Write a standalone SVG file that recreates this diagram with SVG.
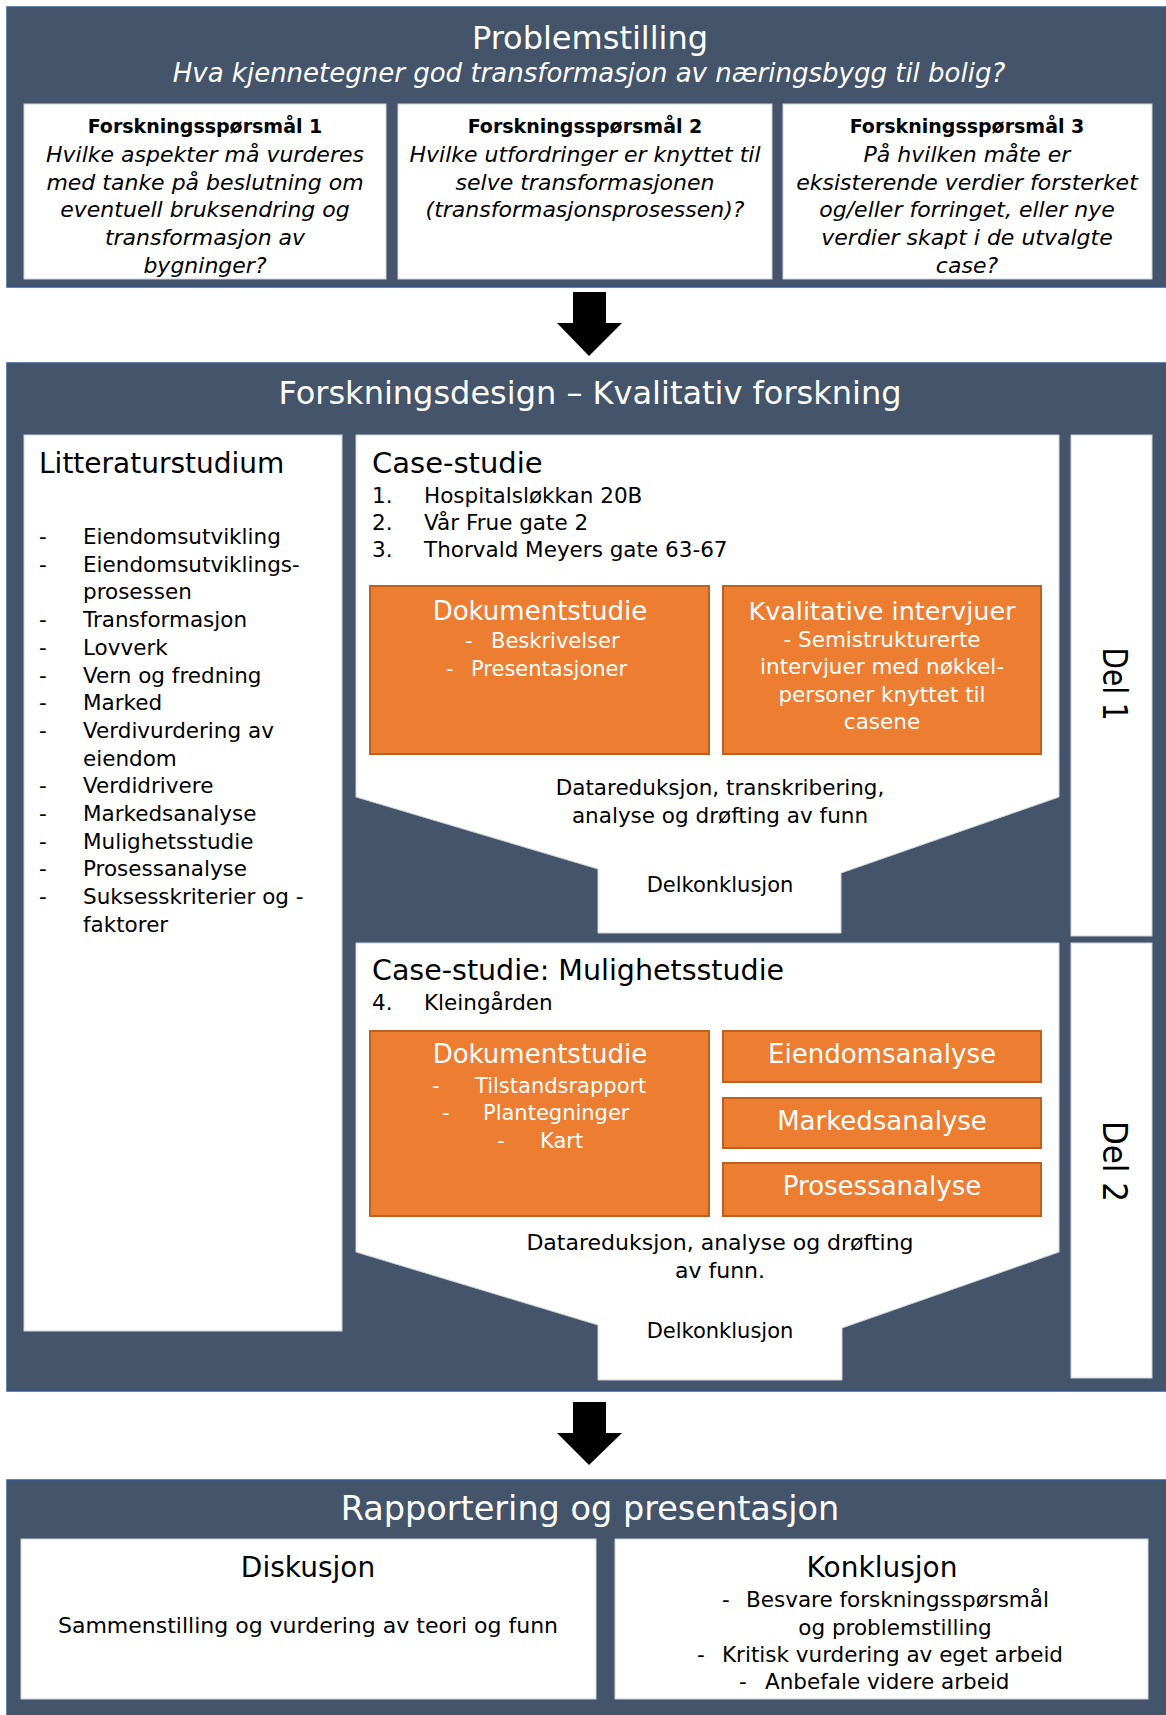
<svg xmlns="http://www.w3.org/2000/svg" width="1166" height="1715" viewBox="0 0 1166 1715">
  <style>
    text { font-family: "DejaVu Sans", "Liberation Sans", sans-serif; fill: #000; }
    .panel { fill: #44546A; stroke: #35598F; stroke-width: 1.5; }
    .box { fill: #FFFFFF; stroke: #CDD3DC; stroke-width: 1; }
    .orange { fill: #ED7D31; stroke: #C0601E; stroke-width: 2; }
    .head { fill: #FFFFFF; font-size: 32px; text-anchor: middle; }
    .sub { fill: #FFFFFF; font-size: 26px; font-style: italic; text-anchor: middle; }
    .qt { font-size: 19px; font-weight: bold; text-anchor: middle; }
    .qi { font-size: 22px; font-style: italic; text-anchor: middle; }
    .h2 { font-size: 28px; }
    .h2c { font-size: 28px; text-anchor: middle; }
    .li { font-size: 21.5px; }
    .mid { font-size: 21.5px; text-anchor: middle; }
    .ot { fill: #FFFFFF; font-size: 26px; text-anchor: middle; }
    .ol { fill: #FFFFFF; font-size: 21px; }
    .olc { fill: #FFFFFF; font-size: 21.5px; text-anchor: middle; }
    .del { font-size: 34px; text-anchor: middle; }
    .arrow { fill: #000000; }
  </style>

  <!-- Problemstilling -->
  <g id="problemstilling">
    <rect class="panel" x="7" y="7" width="1165" height="280"/>
    <text class="head" x="590" y="49">Problemstilling</text>
    <text class="sub" x="589" y="82">Hva kjennetegner god transformasjon av næringsbygg til bolig?</text>
  </g>

  <g id="fq1">
    <rect class="box" x="24" y="104" width="362" height="175"/>
    <text class="qt" x="205" y="133">Forskningsspørsmål 1</text>
    <text class="qi" x="205" y="161.5">Hvilke aspekter må vurderes</text>
    <text class="qi" x="205" y="189.5">med tanke på beslutning om</text>
    <text class="qi" x="205" y="217">eventuell bruksendring og</text>
    <text class="qi" x="205" y="245">transformasjon av</text>
    <text class="qi" x="205" y="273">bygninger?</text>
  </g>

  <g id="fq2">
    <rect class="box" x="398" y="104" width="374" height="175"/>
    <text class="qt" x="585" y="133">Forskningsspørsmål 2</text>
    <text class="qi" x="585" y="161.5">Hvilke utfordringer er knyttet til</text>
    <text class="qi" x="585" y="189.5">selve transformasjonen</text>
    <text class="qi" x="585" y="217">(transformasjonsprosessen)?</text>
  </g>

  <g id="fq3">
    <rect class="box" x="783" y="104" width="369" height="175"/>
    <text class="qt" x="967" y="133">Forskningsspørsmål 3</text>
    <text class="qi" x="967" y="161.5">På hvilken måte er</text>
    <text class="qi" x="967" y="189.5">eksisterende verdier forsterket</text>
    <text class="qi" x="967" y="217">og/eller forringet, eller nye</text>
    <text class="qi" x="967" y="245">verdier skapt i de utvalgte</text>
    <text class="qi" x="967" y="273">case?</text>
  </g>

  <!-- Forskningsdesign -->
  <g id="forskningsdesign">
    <rect class="panel" x="7" y="363" width="1165" height="1028"/>
    <text class="head" x="590" y="404">Forskningsdesign – Kvalitativ forskning</text>
  </g>

  <g id="litteraturstudium">
    <rect class="box" x="24" y="435" width="318" height="896"/>
    <text class="h2" x="39" y="473">Litteraturstudium</text>
    <g class="li">
      <text class="li" x="39" y="544">-</text><text class="li" x="83" y="544">Eiendomsutvikling</text>
      <text class="li" x="39" y="571.7">-</text><text class="li" x="83" y="571.7">Eiendomsutviklings-</text>
      <text class="li" x="83" y="599.4">prosessen</text>
      <text class="li" x="39" y="627.1">-</text><text class="li" x="83" y="627.1">Transformasjon</text>
      <text class="li" x="39" y="654.8">-</text><text class="li" x="83" y="654.8">Lovverk</text>
      <text class="li" x="39" y="682.5">-</text><text class="li" x="83" y="682.5">Vern og fredning</text>
      <text class="li" x="39" y="710.2">-</text><text class="li" x="83" y="710.2">Marked</text>
      <text class="li" x="39" y="737.9">-</text><text class="li" x="83" y="737.9">Verdivurdering av</text>
      <text class="li" x="83" y="765.6">eiendom</text>
      <text class="li" x="39" y="793.3">-</text><text class="li" x="83" y="793.3">Verdidrivere</text>
      <text class="li" x="39" y="821">-</text><text class="li" x="83" y="821">Markedsanalyse</text>
      <text class="li" x="39" y="848.7">-</text><text class="li" x="83" y="848.7">Mulighetsstudie</text>
      <text class="li" x="39" y="876.4">-</text><text class="li" x="83" y="876.4">Prosessanalyse</text>
      <text class="li" x="39" y="904.1">-</text><text class="li" x="83" y="904.1">Suksesskriterier og -</text>
      <text class="li" x="83" y="931.8">faktorer</text>
    </g>
  </g>

  <g id="case-studie">
    <polygon class="box" points="356,435 1059,435 1059,797 841,873 841,933 598,933 598,869 356,797"/>
    <text class="h2" x="372" y="473" style="font-size:29px">Case-studie</text>
    <text class="li" x="372" y="503">1.</text><text class="li" x="424" y="503">Hospitalsløkkan 20B</text>
    <text class="li" x="372" y="530">2.</text><text class="li" x="424" y="530">Vår Frue gate 2</text>
    <text class="li" x="372" y="557">3.</text><text class="li" x="424" y="557">Thorvald Meyers gate 63-67</text>
    <text class="mid" x="720" y="795">Datareduksjon, transkribering,</text>
    <text class="mid" x="720" y="823">analyse og drøfting av funn</text>
    <text class="mid" x="720" y="892" style="font-size:21px">Delkonklusjon</text>
  </g>

  <g id="dokumentstudie-1">
    <rect class="orange" x="370" y="586" width="339" height="168"/>
    <text class="ot" x="540" y="620">Dokumentstudie</text>
    <text class="ol" x="465" y="648">-</text><text class="ol" x="491" y="648">Beskrivelser</text>
    <text class="ol" x="446" y="676">-</text><text class="ol" x="471" y="676">Presentasjoner</text>
  </g>

  <g id="kvalitative-intervjuer">
    <rect class="orange" x="723" y="586" width="318" height="168"/>
    <text class="ot" x="882" y="620" style="font-size:25.5px">Kvalitative intervjuer</text>
    <text class="olc" x="882" y="647">- Semistrukturerte</text>
    <text class="olc" x="882" y="674">intervjuer med nøkkel-</text>
    <text class="olc" x="882" y="702">personer knyttet til</text>
    <text class="olc" x="882" y="729">casene</text>
  </g>

  <g id="del-1">
    <rect class="box" x="1071" y="435" width="81" height="501"/>
    <text class="del" transform="translate(1103,684) rotate(90)" x="0" y="0" textLength="73" lengthAdjust="spacingAndGlyphs">Del 1</text>
  </g>

  <g id="mulighetsstudie">
    <polygon class="box" points="356,943 1059,943 1059,1252 842,1328 842,1380 598,1380 598,1325 356,1252"/>
    <text class="h2" x="372" y="980" style="font-size:28.5px">Case-studie: Mulighetsstudie</text>
    <text class="li" x="372" y="1010">4.</text><text class="li" x="424" y="1010">Kleingården</text>
    <text class="mid" x="720" y="1250" style="font-size:22px">Datareduksjon, analyse og drøfting</text>
    <text class="mid" x="720" y="1278" style="font-size:22px">av funn.</text>
    <text class="mid" x="720" y="1338" style="font-size:21px">Delkonklusjon</text>
  </g>

  <g id="dokumentstudie-2">
    <rect class="orange" x="370" y="1031" width="339" height="185"/>
    <text class="ot" x="540" y="1063">Dokumentstudie</text>
    <text class="ol" x="432" y="1093">-</text><text class="ol" x="475" y="1093">Tilstandsrapport</text>
    <text class="ol" x="442" y="1120">-</text><text class="ol" x="483" y="1120">Plantegninger</text>
    <text class="ol" x="497" y="1148">-</text><text class="ol" x="540" y="1148">Kart</text>
  </g>

  <g id="eiendomsanalyse">
    <rect class="orange" x="723" y="1031" width="318" height="51"/>
    <text class="ot" x="882" y="1063">Eiendomsanalyse</text>
  </g>

  <g id="markedsanalyse">
    <rect class="orange" x="723" y="1098" width="318" height="50"/>
    <text class="ot" x="882" y="1130">Markedsanalyse</text>
  </g>

  <g id="prosessanalyse">
    <rect class="orange" x="723" y="1163" width="318" height="53"/>
    <text class="ot" x="882" y="1195">Prosessanalyse</text>
  </g>

  <g id="del-2">
    <rect class="box" x="1071" y="943" width="81" height="435"/>
    <text class="del" transform="translate(1103,1161.5) rotate(90)" x="0" y="0" textLength="81" lengthAdjust="spacingAndGlyphs">Del 2</text>
  </g>

  <!-- Rapportering og presentasjon -->
  <g id="rapportering">
    <rect class="panel" x="7" y="1480" width="1165" height="245"/>
    <text class="head" x="590" y="1520" style="font-size:33.5px">Rapportering og presentasjon</text>
  </g>

  <g id="diskusjon">
    <rect class="box" x="21" y="1539" width="575" height="160"/>
    <text class="h2c" x="308" y="1577">Diskusjon</text>
    <text class="mid" x="308" y="1633" style="font-size:22px">Sammenstilling og vurdering av teori og funn</text>
  </g>

  <g id="konklusjon">
    <rect class="box" x="615" y="1539" width="533" height="160"/>
    <text class="h2c" x="882" y="1577">Konklusjon</text>
    <text class="li" x="722" y="1607">-</text><text class="li" x="746" y="1607">Besvare forskningsspørsmål</text>
    <text class="mid" x="895" y="1635">og problemstilling</text>
    <text class="li" x="697" y="1662">-</text><text class="li" x="722" y="1662">Kritisk vurdering av eget arbeid</text>
    <text class="li" x="739" y="1689">-</text><text class="li" x="765" y="1689">Anbefale videre arbeid</text>
  </g>

  <!-- Block arrows between the three stages -->
  <g id="connectors">
    <polygon class="arrow" points="573,292 606,292 606,323 622,323 589,356 557,323 573,323"/>
    <polygon class="arrow" points="573,1402 606,1402 606,1433 622,1433 589,1465 557,1433 573,1433"/>
  </g>
</svg>
